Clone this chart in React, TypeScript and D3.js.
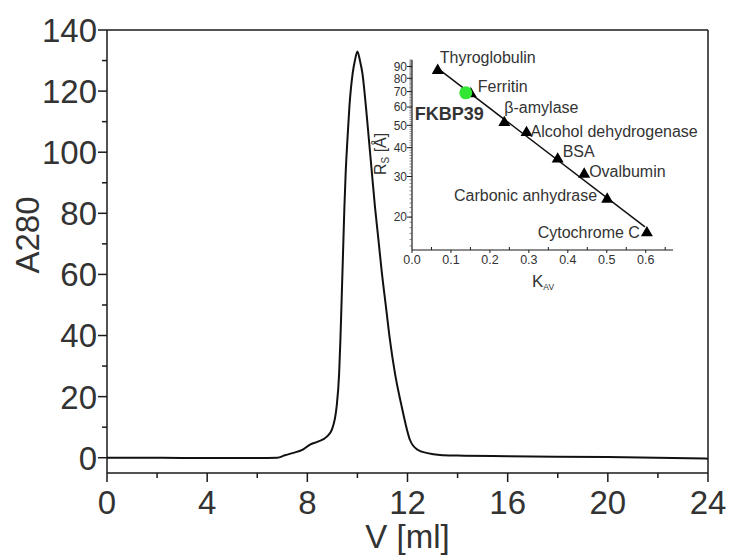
import React from 'react';
import * as d3 from 'd3';

// ---- main chromatogram data ----
const volume = [0, 2, 4, 6, 6.8, 7.1, 7.44, 7.8, 8.11, 8.4, 8.78, 8.98, 9.17, 9.27, 9.32, 9.36, 9.40, 9.44, 9.48, 9.53, 9.60, 9.68, 9.81, 9.90, 10.0, 10.1, 10.2, 10.34, 10.46, 10.58, 10.70, 10.84, 10.97, 11.14, 11.30, 11.50, 11.77, 12.10, 12.4, 12.8, 13.3, 14, 16, 20, 24];
const a280 = [0, 0, -0.1, -0.1, 0, 0.8, 1.6, 2.6, 4.3, 5.2, 6.9, 9.2, 16.7, 27.6, 38.5, 49, 60, 71, 82, 93, 104, 114.9, 125.8, 130, 133, 130, 125.8, 114.9, 104, 93.1, 82.2, 71.3, 61, 49.4, 38.5, 27.6, 16.7, 5.8, 2.6, 1.5, 0.9, 0.7, 0.5, 0.2, -0.3];
const xTicks = [0, 4, 8, 12, 16, 20, 24];
const xMinor = [2, 6, 10, 14, 18, 22];
const yTicks = [0, 20, 40, 60, 80, 100, 120, 140];
const yMinor = [10, 30, 50, 70, 90, 110, 130];

// ---- inset calibration data ----
const proteins = ['Thyroglobulin', 'Ferritin', 'β-amylase', 'Alcohol dehydrogenase', 'BSA', 'Ovalbumin', 'Carbonic anhydrase', 'Cytochrome C'];
const kav = [0.066, 0.151, 0.237, 0.294, 0.374, 0.442, 0.501, 0.603];
const rs = [86.5, 68.5, 51.4, 46.5, 35.7, 30.7, 23.9, 17.1];
const sampleName = 'FKBP39';
const sampleKav = 0.138;
const sampleRs = 69.2;
const fitRange = [0.066, 0.598];
const insetXTicks = [0, 0.1, 0.2, 0.3, 0.4, 0.5, 0.6];
const insetXMinor = [0.05, 0.15, 0.25, 0.35, 0.45, 0.55, 0.65];
const insetYTicks = [20, 30, 40, 50, 60, 70, 80, 90];

// layout for annotation labels (offsets from their markers)
const labelLayout = [
  { dx: 2, dy: -7, anchor: 'start' },
  { dx: 7, dy: -2, anchor: 'start' },
  { dx: 0, dy: -10, anchor: 'start' },
  { dx: 4, dy: 4, anchor: 'start' },
  { dx: 5, dy: -2, anchor: 'start' },
  { dx: 5, dy: 3, anchor: 'start' },
  { dx: -10, dy: 2, anchor: 'end' },
  { dx: -7, dy: 5, anchor: 'end' },
];

const FONT = '"Liberation Sans", Arial, Helvetica, sans-serif';
const TXT = '#333';
const LN = '#1a1a1a';

export default function App() {
  // main scales
  const x = d3.scaleLinear().domain([0, 24]).range([107, 708]);
  const y = d3.scaleLinear().domain([-5, 140]).range([473, 30]);
  const pts = volume.map((v, i) => [v, a280[i]] as [number, number]);
  const line = d3.line<[number, number]>().x(d => x(d[0])).y(d => y(d[1])).curve(d3.curveMonotoneX);

  // inset scales
  const ix = d3.scaleLinear().domain([0, 0.67]).range([412, 673]);
  const iy = d3.scaleLog().domain([14.4, 96]).range([250, 60]);
  const lnR = rs.map(r => Math.log(r));
  const mk = d3.mean(kav)!;
  const ml = d3.mean(lnR)!;
  let sxy = 0, sxx = 0;
  kav.forEach((k, i) => { sxy += (k - mk) * (lnR[i] - ml); sxx += (k - mk) * (k - mk); });
  const slope = sxy / sxx;
  const icpt = ml - slope * mk;
  const fit = fitRange.map(k => [k, Math.exp(icpt + slope * k)] as [number, number]);
  const fitLine = d3.line<[number, number]>().x(d => ix(d[0])).y(d => iy(d[1]));
  const tri = d3.symbol(d3.symbolTriangle, 62)()!;
  const iyMinor = d3.range(15, 97);

  const [x0, x1] = x.range();
  const [yb, yt] = y.range();

  return (
    <svg width={732} height={559} style={{ position: 'absolute', left: 0, top: 0, background: '#fff' }} fontFamily={FONT}>
      <rect width={732} height={559} fill="#fff" />
      {/* frame */}
      <line x1={x0} x2={x1} y1={yt} y2={yt} stroke={LN} strokeWidth={1.5} />
      <line x1={x1} x2={x1} y1={yt} y2={yb} stroke={LN} strokeWidth={1.5} />
      <line x1={x0} x2={x1} y1={yb} y2={yb} stroke={LN} strokeWidth={1.5} />
      <line x1={x0} x2={x0} y1={yt} y2={yb} stroke={LN} strokeWidth={1.5} />
      {/* y ticks */}
      {yTicks.map(t => (
        <g key={'y' + t}>
          <line x1={x0 - 9} x2={x0} y1={y(t)} y2={y(t)} stroke={LN} strokeWidth={1.5} />
          <text x={x0 - 10} y={y(t)} dy="0.36em" textAnchor="end" fontSize={33} fill={TXT}>{t}</text>
        </g>
      ))}
      {yMinor.map(t => (
        <line key={'ym' + t} x1={x0 - 5} x2={x0} y1={y(t)} y2={y(t)} stroke={LN} strokeWidth={1.5} />
      ))}
      {/* x ticks */}
      {xTicks.map(t => (
        <g key={'x' + t}>
          <line x1={x(t)} x2={x(t)} y1={yb} y2={yb + 9} stroke={LN} strokeWidth={1.5} />
          <text x={x(t)} y={514} textAnchor="middle" fontSize={33} fill={TXT}>{t}</text>
        </g>
      ))}
      {xMinor.map(t => (
        <line key={'xm' + t} x1={x(t)} x2={x(t)} y1={yb} y2={yb + 5} stroke={LN} strokeWidth={1.5} />
      ))}
      <text x={x(12)} y={548} textAnchor="middle" fontSize={33} fill={TXT}>V [ml]</text>
      <text transform={`translate(39,235) rotate(-90)`} textAnchor="middle" fontSize={33} fill={TXT}>A280</text>
      {/* curve */}
      <path d={line(pts)!} fill="none" stroke="#111" strokeWidth={2} />

      {/* ---- inset ---- */}
      <line x1={ix(0)} x2={ix(0.67)} y1={250} y2={250} stroke={LN} strokeWidth={1.2} />
      <line x1={ix(0)} x2={ix(0)} y1={iy(96)} y2={250} stroke={LN} strokeWidth={1.2} />
      {iyMinor.map(t => (
        <line key={'iym' + t} x1={ix(0) - 2.5} x2={ix(0)} y1={iy(t)} y2={iy(t)} stroke="#555" strokeWidth={0.7} />
      ))}
      {insetYTicks.map(t => (
        <g key={'iy' + t}>
          <line x1={ix(0) - 5} x2={ix(0)} y1={iy(t)} y2={iy(t)} stroke={LN} strokeWidth={1} />
          <text x={ix(0) - 5} y={iy(t)} dy="0.36em" textAnchor="end" fontSize={12} fill={TXT}>{t}</text>
        </g>
      ))}
      {insetXTicks.map(t => (
        <g key={'ix' + t}>
          <line x1={ix(t)} x2={ix(t)} y1={250} y2={253} stroke={LN} strokeWidth={1} />
          <text x={ix(t)} y={264} textAnchor="middle" fontSize={12.5} fill={TXT}>{t.toFixed(1)}</text>
        </g>
      ))}
      {insetXMinor.map(t => (
        <line key={'ixm' + t} x1={ix(t)} x2={ix(t)} y1={250} y2={247} stroke={LN} strokeWidth={1} />
      ))}
      <text x={532} y={287} fontSize={17} fill={TXT}>K<tspan fontSize={8.5} dy={3}>AV</tspan></text>
      <text transform={`translate(386,175) rotate(-90)`} fontSize={16} fill={TXT}>R<tspan fontSize={10} dy={3}>S</tspan><tspan dy={-3}> [Å]</tspan></text>

      <path d={fitLine(fit)!} fill="none" stroke="#111" strokeWidth={1.5} />
      {proteins.map((p, i) => (
        <path key={'t' + p} d={tri} transform={`translate(${ix(kav[i])},${iy(rs[i])})`} fill="#000" />
      ))}
      <circle cx={ix(sampleKav)} cy={iy(sampleRs)} r={6.5} fill="#33e633" />
      {proteins.map((p, i) => (
        <text key={'l' + p} x={ix(kav[i]) + labelLayout[i].dx} y={iy(rs[i]) + labelLayout[i].dy}
          textAnchor={labelLayout[i].anchor as any} fontSize={16} fill={TXT}>{p}</text>
      ))}
      <text x={ix(sampleKav) - 51} y={iy(sampleRs) + 27} fontSize={18} fontWeight="bold" fill={TXT}>{sampleName}</text>
    </svg>
  );
}
